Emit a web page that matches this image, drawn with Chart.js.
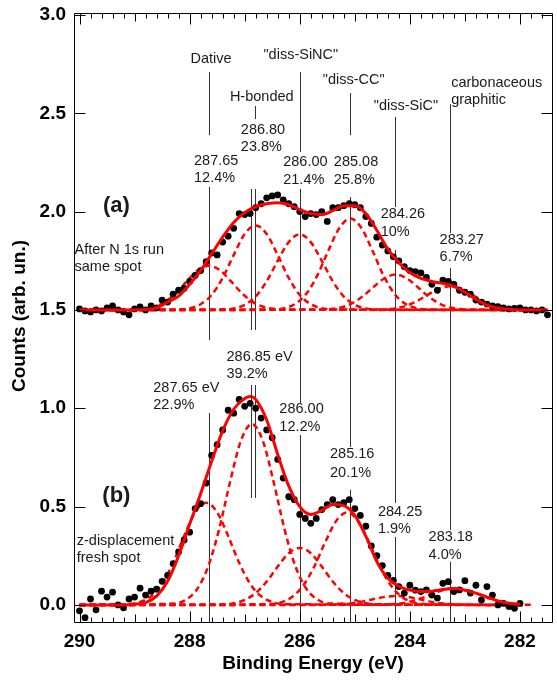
<!DOCTYPE html>
<html>
<head>
<meta charset="utf-8">
<script src="https://cdn.jsdelivr.net/npm/chart.js@4.4.1/dist/chart.umd.min.js"></script>
<style>
  html, body { margin: 0; padding: 0; background: #fff; }
  #wrap { width: 557px; height: 683px; position: relative; }
</style>
</head>
<body>
<div id="wrap"><canvas id="chart"></canvas></div>
<script>
// ---- spectrum (a): after N 1s run, same spot (offset +1.5) ----
const energyA = [290.0,289.9,289.8,289.7,289.6,289.5,289.4,289.3,289.2,289.1,289.0,288.9,288.8,288.7,288.6,288.5,288.4,288.3,288.2,288.1,
  288.0,287.9,287.8,287.7,287.6,287.5,287.4,287.3,287.2,287.1,287.0,286.9,286.8,286.7,286.6,286.5,286.4,286.3,286.2,286.1,
  286.0,285.9,285.8,285.7,285.6,285.5,285.4,285.3,285.2,285.1,285.0,284.9,284.8,284.7,284.6,284.5,284.4,284.3,284.2,284.1,
  284.0,283.9,283.8,283.7,283.6,283.5,283.4,283.3,283.2,283.1,283.0,282.9,282.8,282.7,282.6,282.5,282.4,282.3,282.2,282.1,
  282.0,281.9,281.8,281.7,281.6,281.5];
const countsA = [1.505,1.495,1.49,1.50,1.495,1.51,1.52,1.50,1.49,1.475,
  1.505,1.515,1.50,1.52,1.51,1.55,1.54,1.58,1.60,1.61,
  1.645,1.675,1.70,1.745,1.79,1.78,1.845,1.875,1.915,1.99,
  1.985,1.99,2.02,2.04,2.07,2.08,2.085,2.06,2.04,2.025,
  2.0,1.975,1.99,1.985,2.0,1.95,2.02,2.02,2.03,2.04,
  2.035,2.02,1.975,1.94,1.87,1.83,1.80,1.77,1.75,1.72,
  1.70,1.695,1.688,1.665,1.63,1.60,1.652,1.645,1.63,1.60,
  1.59,1.58,1.55,1.54,1.53,1.52,1.517,1.51,1.505,1.508,
  1.51,1.50,1.50,1.495,1.50,1.475];
const fitEnergyA = [290.0,289.0,288.8,288.6,288.4,288.2,288.0,287.8,287.6,287.4,287.2,287.0,286.8,286.6,286.4,286.2,286.0,285.8,285.6,285.4,
  285.2,285.0,284.8,284.6,284.4,284.2,284.0,283.8,283.6,283.4,283.2,283.0,282.8,282.6,282.4,282.2,282.0,281.5];
const fitA = [1.50,1.50,1.502,1.51,1.54,1.57,1.63,1.70,1.785,1.87,1.945,1.995,2.025,2.04,2.045,2.035,2.01,1.99,1.985,2.005,
  2.03,2.03,1.99,1.905,1.81,1.74,1.69,1.66,1.645,1.635,1.62,1.59,1.555,1.525,1.51,1.503,1.50,1.50];

// ---- spectrum (b): z-displacement, fresh spot ----
const energyB = [290.0,289.9,289.8,289.7,289.6,289.5,289.4,289.3,289.2,289.1,289.0,288.9,288.8,288.7,288.6,288.5,288.4,288.3,288.2,288.1,
  288.0,287.9,287.8,287.7,287.6,287.5,287.4,287.3,287.2,287.1,287.0,286.9,286.8,286.7,286.6,286.5,286.4,286.3,286.2,286.1,
  286.0,285.9,285.8,285.7,285.6,285.5,285.4,285.3,285.2,285.1,285.0,284.9,284.8,284.7,284.6,284.5,284.4,284.3,284.2,284.1,
  284.0,283.9,283.8,283.7,283.6,283.5,283.4,283.3,283.2,283.1,283.0,282.9,282.8,282.7,282.6,282.5,282.4,282.3,282.2,282.1,
  282.0];
const countsB = [-0.03,-0.065,0.03,-0.025,0.07,0.04,0.065,0.0,-0.015,0.03,
  0.04,0.085,0.05,0.07,0.08,0.12,0.15,0.21,0.27,0.33,
  0.37,0.49,0.515,0.62,0.76,0.815,0.89,0.99,0.975,1.045,
  1.01,1.025,1.0,0.95,0.89,0.85,0.74,0.645,0.55,0.535,
  0.46,0.44,0.415,0.44,0.485,0.51,0.535,0.51,0.52,0.535,
  0.49,0.455,0.40,0.30,0.25,0.20,0.15,0.125,0.093,0.06,
  0.10,0.075,0.068,0.076,0.05,0.035,0.11,0.118,0.068,0.076,
  0.123,0.06,0.10,0.025,0.093,0.05,0.0,0.008,-0.008,-0.017,
  0.008];
const fitEnergyB = [290.0,289.2,289.0,288.8,288.6,288.4,288.2,288.0,287.8,287.6,287.4,287.2,287.0,286.9,286.8,286.6,286.4,286.2,286.0,285.8,
  285.6,285.4,285.2,285.0,284.8,284.6,284.4,284.2,284.0,283.8,283.6,283.4,283.2,283.0,282.8,282.6,282.4,282.2,282.0];
const fitB = [0.0,0.0,0.003,0.012,0.045,0.12,0.25,0.41,0.565,0.73,0.885,0.995,1.05,1.06,1.045,0.94,0.765,0.605,0.50,0.46,
  0.48,0.51,0.505,0.455,0.35,0.22,0.135,0.095,0.075,0.068,0.07,0.078,0.083,0.075,0.06,0.04,0.02,0.008,0.003];

// ---- fitted components (read at offsets from each peak centre) ----
const compOffsets = [1.4,1.2,1.0,0.8,0.6,0.4,0.2,0,-0.2,-0.4,-0.6,-0.8,-1.0,-1.2,-1.4];
const compCentersA = [287.65, 286.80, 286.00, 285.08, 284.26, 283.27];
const compValuesA = [
  [1.501,1.505,1.515,1.540,1.585,1.646,1.702,1.725,1.702,1.646,1.585,1.540,1.515,1.505,1.501],
  [1.502,1.509,1.529,1.576,1.663,1.779,1.886,1.930,1.886,1.779,1.663,1.576,1.529,1.509,1.502],
  [1.502,1.508,1.526,1.568,1.646,1.750,1.845,1.885,1.845,1.750,1.646,1.568,1.526,1.508,1.502],
  [1.502,1.509,1.531,1.582,1.676,1.802,1.917,1.965,1.917,1.802,1.676,1.582,1.531,1.509,1.502],
  [1.501,1.504,1.512,1.532,1.568,1.617,1.661,1.680,1.661,1.617,1.568,1.532,1.512,1.504,1.501],
  [1.501,1.502,1.508,1.521,1.545,1.578,1.608,1.620,1.608,1.578,1.545,1.521,1.508,1.502,1.501]
];
const compCentersB = [287.70, 286.87, 286.00, 285.14, 284.25, 283.18];
const compValuesB = [
  [0.004,0.015,0.044,0.107,0.214,0.350,0.471,0.520,0.471,0.350,0.214,0.107,0.044,0.015,0.004],
  [0.007,0.026,0.078,0.190,0.378,0.620,0.834,0.920,0.834,0.620,0.378,0.190,0.078,0.026,0.007],
  [0.002,0.008,0.025,0.060,0.119,0.195,0.263,0.290,0.263,0.195,0.119,0.060,0.025,0.008,0.002],
  [0.004,0.013,0.040,0.097,0.193,0.317,0.426,0.470,0.426,0.317,0.193,0.097,0.040,0.013,0.004],
  [0.000,0.001,0.004,0.009,0.018,0.030,0.041,0.045,0.041,0.030,0.018,0.009,0.004,0.001,0.000],
  [0.001,0.002,0.007,0.018,0.035,0.057,0.077,0.085,0.077,0.057,0.035,0.018,0.007,0.002,0.001]
];

// ---- axes ----
const xTickValues = [282, 284, 286, 288, 290];
const yTickValues = [0, 0.5, 1.0, 1.5, 2.0, 2.5, 3.0];

// ---- peak marker lines: energy, from, to ----
const markerX  = [287.65, 287.65, 287.65, 286.89, 286.89, 286.82, 286.82, 286.82, 286.00, 286.00, 286.00, 285.08, 285.08, 285.08, 284.27, 284.27, 284.27, 283.27, 283.27, 283.27];
const markerY1 = [2.710, 2.125, 0.976, 2.115, 1.118, 2.537, 2.115, 1.118, 2.710, 2.115, 0.864, 2.603, 2.074, 0.585, 2.481, 1.805, 0.346, 2.547, 1.713, 0.219];
const markerY2 = [2.389, 1.347, -0.092, 1.398, 0.544, 2.471, 1.398, 0.544, 2.303, 1.027, -0.092, 2.389, 0.803, -0.092, 2.023, 0.519, -0.092, 1.891, 0.381, -0.092];

// ---- text annotations ----
const noteText = ['Dative', 'H-bonded', '"diss-SiNC"', '"diss-CC"', '"diss-SiC"', 'carbonaceous', 'graphitic',
  '287.65', '12.4%', '286.80', '23.8%', '286.00', '21.4%', '285.08', '25.8%', '284.26', '10%', '283.27', '6.7%',
  'After N 1s run', 'same spot',
  '286.85 eV', '39.2%', '287.65 eV', '22.9%', '286.00', '12.2%', '285.16', '20.1%', '284.25', '1.9%', '283.18', '4.0%',
  'z-displacement', 'fresh spot'];
const noteX = [287.61, 286.69, 285.98, 285.02, 284.07, 283.25, 283.25,
  287.92, 287.92, 287.07, 287.07, 286.30, 286.30, 285.38, 285.38, 284.53, 284.53, 283.46, 283.46,
  290.09, 290.09,
  287.33, 287.33, 288.66, 288.66, 286.37, 286.37, 285.45, 285.45, 284.58, 284.58, 283.66, 283.66,
  290.05, 290.05];
const noteY = [2.776, 2.583, 2.796, 2.669, 2.537, 2.654, 2.567,
  2.257, 2.171, 2.415, 2.328, 2.252, 2.161, 2.252, 2.161, 1.988, 1.896, 1.856, 1.769,
  1.805, 1.718,
  1.261, 1.174, 1.103, 1.017, 0.996, 0.905, 0.768, 0.671, 0.473, 0.386, 0.346, 0.254,
  0.325, 0.239];
const noteAlign = ['center', 'center', 'center', 'center', 'center', 'left', 'left'];
const panelText = ['(a)', '(b)'];
const panelX = [289.33, 289.33];
const panelY = [2.028, 0.554];

const FONT = '"Liberation Sans", Arial, sans-serif';
const RED = 'rgb(255,0,0)';

function pts(xs, ys) { return xs.map((x, i) => ({ x, y: ys[i] })); }

function componentPts(center, values, base, start, end) {
  const p = compOffsets.map((o, i) => ({ x: center + o, y: values[i] }));
  if (p[0].x < start) p.unshift({ x: start, y: base });
  if (p[p.length - 1].x > end) p.push({ x: end, y: base });
  return p;
}

const datasets = [];
compCentersA.forEach((c, i) => datasets.push({
  data: componentPts(c, compValuesA[i], 1.5, 290.0, 281.5),
  showLine: true, borderColor: RED, borderWidth: 2.5, borderDash: [6, 4],
  pointRadius: 0, cubicInterpolationMode: 'monotone', order: 3
}));
compCentersB.forEach((c, i) => datasets.push({
  data: componentPts(c, compValuesB[i], 0, 290.0, 281.95),
  showLine: true, borderColor: RED, borderWidth: 2.5, borderDash: [6, 4],
  pointRadius: 0, cubicInterpolationMode: 'monotone', order: 3
}));
[[energyA, countsA], [energyB, countsB]].forEach(([xs, ys]) => datasets.push({
  data: pts(xs, ys), showLine: false, pointRadius: 3.4, pointBorderWidth: 0,
  pointBackgroundColor: '#000', order: 2
}));
[[fitEnergyA, fitA], [fitEnergyB, fitB]].forEach(([xs, ys]) => datasets.push({
  data: pts(xs, ys), showLine: true, borderColor: RED, borderWidth: 3,
  pointRadius: 0, cubicInterpolationMode: 'monotone', order: 1
}));

function line(ctx, x1, y1, x2, y2) {
  ctx.beginPath();
  ctx.moveTo(x1, y1);
  ctx.lineTo(x2, y2);
  ctx.stroke();
}

const decor = {
  id: 'decor',
  beforeDatasetsDraw(chart) {
    const { ctx, scales: { x, y } } = chart;
    ctx.save();
    ctx.strokeStyle = '#333';
    ctx.lineWidth = 1;
    markerX.forEach((e, i) => {
      const px = Math.round(x.getPixelForValue(e)) + 0.5;
      line(ctx, px, y.getPixelForValue(markerY1[i]), px, y.getPixelForValue(markerY2[i]));
    });
    ctx.restore();
  },
  afterDatasetsDraw(chart) {
    const { ctx, scales: { x, y } } = chart;
    ctx.save();
    ctx.fillStyle = '#1a1a1a';
    ctx.textBaseline = 'middle';
    ctx.font = '14.5px ' + FONT;
    noteText.forEach((t, i) => {
      ctx.textAlign = noteAlign[i] || 'left';
      ctx.fillText(t, x.getPixelForValue(noteX[i]), y.getPixelForValue(noteY[i]));
    });
    ctx.font = 'bold 22px ' + FONT;
    ctx.textAlign = 'center';
    panelText.forEach((t, i) => ctx.fillText(t, x.getPixelForValue(panelX[i]), y.getPixelForValue(panelY[i])));
    ctx.fillStyle = '#000';
    ctx.font = 'bold 19px ' + FONT;
    ctx.fillText('Binding Energy (eV)', 313, 664);
    ctx.translate(20, 316);
    ctx.rotate(-Math.PI / 2);
    ctx.fillText('Counts (arb. un.)', 0, 0);
    ctx.restore();
  },
  afterDraw(chart) {
    const { ctx, chartArea: a, scales: { x, y } } = chart;
    const L = Math.round(a.left) + 0.5, R = Math.round(a.right) - 0.5;
    const T = Math.round(a.top) + 0.5, B = Math.round(a.bottom) - 0.5;
    ctx.save();
    ctx.setLineDash([]);
    ctx.strokeStyle = '#000';
    ctx.lineWidth = 1;
    line(ctx, L, T, R, T);
    line(ctx, R, T, R, B);
    line(ctx, R, B, L, B);
    line(ctx, L, B, L, T);
    // inward ticks: 0.2 eV minor, 1 eV medium, 2 eV major
    for (let k = -2; k <= 40; k++) {
      const px = Math.round(x.getPixelForValue(282 + k * 0.2)) + 0.5;
      const len = k % 10 === 0 ? 11 : (k % 5 === 0 ? 8 : 5);
      line(ctx, px, B, px, B - len);
      line(ctx, px, T, px, T + len);
    }
    yTickValues.forEach(v => {
      const py = Math.round(y.getPixelForValue(v)) + 0.5;
      line(ctx, L, py, L + 11, py);
      line(ctx, R, py, R - 11, py);
    });
    ctx.restore();
  }
};

new Chart(document.getElementById('chart'), {
  type: 'scatter',
  data: { datasets },
  plugins: [decor],
  options: {
    responsive: true, maintainAspectRatio: false, animation: false, devicePixelRatio: 1,
    layout: { padding: { top: 13, right: 1, left: 0, bottom: 0 } },
    plugins: { legend: { display: false }, tooltip: { enabled: false } },
    scales: {
      x: {
        type: 'linear', reverse: true, min: 281.4, max: 290.1,
        grid: { display: false, drawTicks: false }, border: { display: false },
        afterBuildTicks: s => { s.ticks = xTickValues.map(v => ({ value: v })); },
        afterFit: s => { s.height = 60; s.paddingLeft = 0; s.paddingRight = 0; },
        ticks: { padding: 7, color: '#000', maxRotation: 0, font: { family: FONT, size: 19, weight: 'bold' }, callback: v => String(v) }
      },
      y: {
        type: 'linear', min: -0.092, max: 3.01,
        grid: { display: false, drawTicks: false }, border: { display: false },
        afterBuildTicks: s => { s.ticks = yTickValues.map(v => ({ value: v })); },
        afterFit: s => { s.width = 74; s.paddingTop = 0; s.paddingBottom = 0; },
        ticks: { padding: 8, color: '#000', font: { family: FONT, size: 19, weight: 'bold' }, callback: v => Number(v).toFixed(1) }
      }
    }
  }
});
</script>
</body>
</html>
